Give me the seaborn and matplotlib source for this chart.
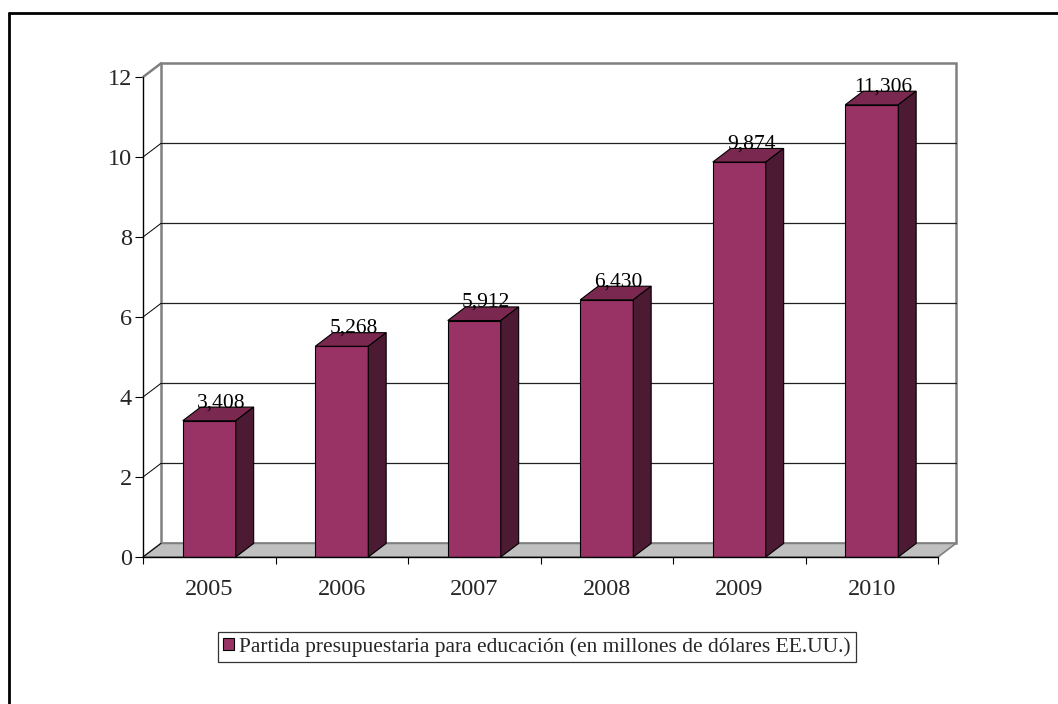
import pandas as pd
import matplotlib.pyplot as plt
import seaborn as sns
import numpy as np
from matplotlib.patches import Polygon
from matplotlib.lines import Line2D

# data
years = ['2005', '2006', '2007', '2008', '2009', '2010']
budget = [3.408, 5.268, 5.912, 6.430, 9.874, 11.306]
value_labels = ['3,408', '5,268', '5,912', '6,430', '9,874', '11,306']
legend_label = 'Partida presupuestaria para educación (en millones de dólares EE.UU.)'
y_ticks = [0, 2, 4, 6, 8, 10, 12]

df = pd.DataFrame({'Año': years, 'Valor': budget})

sns.set_style('white')
plt.rcParams['font.family'] = ['Liberation Serif', 'DejaVu Serif']

front_col = '#993366'
top_col = '#7A2850'
side_col = '#4D1A33'
wall_col = '#808080'

# depth of the pseudo-3D effect (in data units)
dx, dy = 0.135, 0.34

fig = plt.figure(figsize=(10.58, 7.04), dpi=100)
ax = fig.add_axes([0.1352, 0.2088, 0.7514, 0.6818])

sns.barplot(data=df, x='Año', y='Valor', color=front_col, saturation=1,
            width=0.4, edgecolor='black', linewidth=0.8, ax=ax, zorder=5)

n = len(years)
x0, x1 = -0.5, n - 0.5
ymax = y_ticks[-1]
ax.set_xlim(x0, x1)
ax.set_ylim(0, ymax)
for s in ax.spines.values():
    s.set_visible(False)
ax.patch.set_visible(False)

# back wall
wall = Polygon([(x0 + dx, dy), (x1 + dx, dy), (x1 + dx, ymax + dy), (x0 + dx, ymax + dy)],
               closed=True, facecolor='white', edgecolor=wall_col, linewidth=1.8,
               zorder=0, clip_on=False)
ax.add_patch(wall)
# floor
floor = Polygon([(x0, 0), (x1, 0), (x1 + dx, dy), (x0 + dx, dy)], closed=True,
                facecolor='#C0C0C0', edgecolor=wall_col, linewidth=1.2, zorder=1, clip_on=False)
ax.add_patch(floor)
# top diagonal of side wall
ax.plot([x0, x0 + dx], [ymax, ymax + dy], color=wall_col, lw=1.8, zorder=1, clip_on=False)

# gridlines on back wall and diagonals to the front axis
for t in y_ticks[1:-1]:
    ax.plot([x0 + dx, x1 + dx], [t + dy, t + dy], color='#202020', lw=0.9, zorder=1, clip_on=False)
for t in y_ticks[:-1]:
    ax.plot([x0, x0 + dx], [t, t + dy], color='black', lw=0.7, zorder=1, clip_on=False)

# front axes
ax.plot([x0, x0], [0, ymax], color='black', lw=1.0, zorder=6, clip_on=False)
ax.plot([x0, x1], [0, 0], color='black', lw=1.0, zorder=6, clip_on=False)

# 3D faces of the bars
for p, lab in zip(ax.patches[:n], value_labels):
    bx, bw, bh = p.get_x(), p.get_width(), p.get_height()
    top = Polygon([(bx, bh), (bx + bw, bh), (bx + bw + dx, bh + dy), (bx + dx, bh + dy)],
                  closed=True, facecolor=top_col, edgecolor='black', linewidth=0.8, zorder=5)
    side = Polygon([(bx + bw, 0), (bx + bw + dx, dy), (bx + bw + dx, bh + dy), (bx + bw, bh)],
                   closed=True, facecolor=side_col, edgecolor='black', linewidth=0.8, zorder=5)
    ax.add_patch(top)
    ax.add_patch(side)
    ax.text(bx + bw / 2 + 0.09, bh + dy, lab, ha='center', va='baseline',
            fontsize=15.5, color='black', zorder=7)

ax.set_yticks(y_ticks)
ax.set_yticklabels([str(t) for t in y_ticks])
ax.tick_params(axis='y', length=6, width=0.8, color='black', pad=2, labelsize=17.5, left=True)
ax.set_xticks(range(n))
ax.set_xticklabels(years)
ax.set_xticks(np.arange(x0, x1 + 1), minor=True)
ax.tick_params(axis='x', which='major', length=0, pad=16, labelsize=17.5)
ax.tick_params(axis='x', which='minor', length=5, width=0.8, color='black', bottom=True)
ax.set_xlabel('')
ax.set_ylabel('')

# legend
handle = plt.Rectangle((0, 0), 1, 1, facecolor=front_col, edgecolor='black', linewidth=0.8)
leg = fig.legend([handle], [legend_label], loc='center', bbox_to_anchor=(537 / 1058, 1 - 647 / 704),
                 fontsize=15.5, frameon=True, fancybox=False, handlelength=0.5, handleheight=0.5,
                 handletextpad=0.25, borderpad=0.22, borderaxespad=0)
leg.get_frame().set_edgecolor('black')
leg.get_frame().set_linewidth(0.9)

# outer frame (only top and left edges visible)
fig.add_artist(Line2D([9 / 1058, 1], [1 - 13 / 704, 1 - 13 / 704], color='black', lw=2,
                      transform=fig.transFigure))
fig.add_artist(Line2D([9 / 1058, 9 / 1058], [0, 1 - 13 / 704], color='black', lw=2,
                      transform=fig.transFigure))

fig.savefig('out.png', dpi=100)
